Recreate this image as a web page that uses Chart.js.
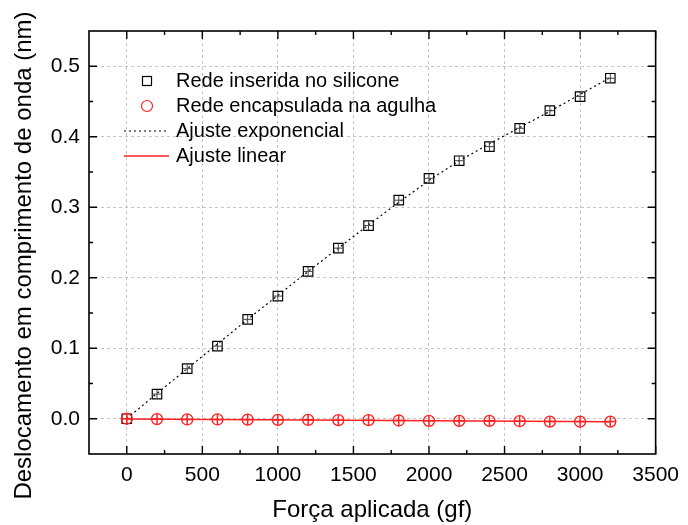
<!DOCTYPE html>
<html>
<head>
<meta charset="utf-8">
<script src="https://cdn.jsdelivr.net/npm/chart.js@4"></script>
<style>
    html, body { margin: 0; padding: 0; background: #fff; }
    #grafico { display: block; }
</style>
</head>
<body>
<canvas id="grafico" width="688" height="525"></canvas>
<script>
// dados
const forca = [0, 200, 400, 600, 800, 1000, 1200, 1400, 1600, 1800, 2000, 2200, 2400, 2600, 2800, 3000, 3200];
const silicone = [0.000, 0.035, 0.071, 0.103, 0.141, 0.174, 0.209, 0.242, 0.274, 0.310, 0.341, 0.366, 0.386, 0.412, 0.437, 0.457, 0.483];
const agulha = [0.000, -0.0005, -0.001, -0.001, -0.0012, -0.0015, -0.0015, -0.002, -0.002, -0.0025, -0.003, -0.003, -0.003, -0.0035, -0.004, -0.004, -0.004];
const ajusteExp = [0.000, 0.036, 0.071, 0.106, 0.141, 0.175, 0.209, 0.242, 0.275, 0.307, 0.338, 0.366, 0.390, 0.413, 0.436, 0.460, 0.484];
const linX = [0, 3200];
const ajusteLin = [-0.0003, -0.0043];

const xTicks = [0, 500, 1000, 1500, 2000, 2500, 3000, 3500];
const yTicks = [0, 0.1, 0.2, 0.3, 0.4, 0.5];

const legendas = ['Rede inserida no silicone', 'Rede encapsulada na agulha', 'Ajuste exponencial', 'Ajuste linear'];
const tituloY = 'Deslocamento em comprimento de onda (nm)';

const VERMELHO = '#ff2020';
const fonte = "'Liberation Sans', Arial, sans-serif";

Chart.defaults.font.family = fonte;
Chart.defaults.color = '#000';

function pontos(xs, ys) {
    return xs.map((x, i) => ({ x: x, y: ys[i] }));
}

// moldura com ticks para dentro (principais e secundários)
const moldura = {
    id: 'moldura',
    afterDraw(chart) {
        const { ctx, chartArea: a, scales: { x, y } } = chart;
        ctx.save();
        ctx.strokeStyle = '#000';
        ctx.lineWidth = 1.6;
        ctx.strokeRect(a.left, a.top, a.right - a.left, a.bottom - a.top);
        ctx.lineWidth = 1.4;
        ctx.beginPath();
        const xMin = xTicks.slice(0, -1).map((v, i) => (v + xTicks[i + 1]) / 2);
        const yMin = yTicks.slice(0, -1).map((v, i) => (v + yTicks[i + 1]) / 2);
        xTicks.forEach(v => {
            const px = x.getPixelForValue(v);
            ctx.moveTo(px, a.bottom); ctx.lineTo(px, a.bottom - 8);
            ctx.moveTo(px, a.top); ctx.lineTo(px, a.top + 8);
        });
        xMin.forEach(v => {
            const px = x.getPixelForValue(v);
            ctx.moveTo(px, a.bottom); ctx.lineTo(px, a.bottom - 4);
            ctx.moveTo(px, a.top); ctx.lineTo(px, a.top + 4);
        });
        yTicks.forEach(v => {
            const py = y.getPixelForValue(v);
            ctx.moveTo(a.left, py); ctx.lineTo(a.left + 8, py);
            ctx.moveTo(a.right, py); ctx.lineTo(a.right - 8, py);
        });
        yMin.forEach(v => {
            const py = y.getPixelForValue(v);
            ctx.moveTo(a.left, py); ctx.lineTo(a.left + 4, py);
            ctx.moveTo(a.right, py); ctx.lineTo(a.right - 4, py);
        });
        ctx.stroke();

        // título do eixo y (um pouco abaixo do centro, como no original)
        ctx.translate(24, (a.top + a.bottom) / 2 + 13);
        ctx.rotate(-Math.PI / 2);
        ctx.font = '24px ' + fonte;
        ctx.textAlign = 'center';
        ctx.textBaseline = 'middle';
        ctx.fillStyle = '#000';
        ctx.fillText(tituloY, 0, 0);
        ctx.restore();
    }
};

// legenda dentro da área do gráfico
const legendaInterna = {
    id: 'legendaInterna',
    afterDraw(chart) {
        const { ctx, chartArea: a } = chart;
        const x0 = a.left + 58;
        const y0 = a.top + 50;
        const passo = 25;
        ctx.save();
        ctx.font = '20px ' + fonte;
        ctx.textBaseline = 'middle';
        ctx.fillStyle = '#000';
        legendas.forEach((t, i) => ctx.fillText(t, a.left + 87, y0 + i * passo));

        ctx.lineWidth = 1.2;
        ctx.strokeStyle = '#000';
        ctx.strokeRect(x0 - 4.5, y0 - 4.5, 9, 9);

        ctx.strokeStyle = VERMELHO;
        ctx.beginPath();
        ctx.arc(x0, y0 + passo, 5.5, 0, Math.PI * 2);
        ctx.stroke();

        ctx.strokeStyle = '#000';
        ctx.setLineDash([2, 3]);
        ctx.beginPath();
        ctx.moveTo(a.left + 35, y0 + 2 * passo);
        ctx.lineTo(a.left + 80, y0 + 2 * passo);
        ctx.stroke();

        ctx.setLineDash([]);
        ctx.strokeStyle = VERMELHO;
        ctx.lineWidth = 1.5;
        ctx.beginPath();
        ctx.moveTo(a.left + 35, y0 + 3 * passo);
        ctx.lineTo(a.left + 80, y0 + 3 * passo);
        ctx.stroke();
        ctx.restore();
    }
};

const ctx = document.getElementById('grafico').getContext('2d');
const grafico = new Chart(ctx, {
    type: 'scatter',
    data: {
        datasets: [
            {
                label: legendas[2],
                data: pontos(forca, ajusteExp),
                showLine: true,
                borderColor: '#000',
                borderWidth: 1.2,
                borderDash: [2, 3],
                pointRadius: 0,
                order: 5
            },
            {
                label: legendas[3],
                data: pontos(linX, ajusteLin),
                showLine: true,
                borderColor: VERMELHO,
                borderWidth: 1.5,
                pointRadius: 0,
                order: 5
            },
            {
                label: legendas[0],
                data: pontos(forca, silicone),
                pointStyle: 'rect',
                pointRadius: 6.7,
                borderColor: '#000',
                backgroundColor: 'rgba(0,0,0,0)',
                borderWidth: 1.2,
                order: 4
            },
            {
                label: '',
                data: pontos(forca, silicone),
                pointStyle: 'cross',
                pointRadius: 4.5,
                borderColor: '#444',
                borderWidth: 1,
                order: 3
            },
            {
                label: legendas[1],
                data: pontos(forca, agulha),
                pointStyle: 'circle',
                pointRadius: 5.5,
                borderColor: VERMELHO,
                backgroundColor: 'rgba(0,0,0,0)',
                borderWidth: 1.3,
                order: 2
            },
            {
                label: '',
                data: pontos(forca, agulha),
                pointStyle: 'cross',
                pointRadius: 5.5,
                borderColor: VERMELHO,
                backgroundColor: VERMELHO,
                borderWidth: 1.5,
                order: 1
            }
        ]
    },
    options: {
        responsive: false,
        animation: false,
        devicePixelRatio: 1,
        layout: { padding: { top: 31, right: 28, left: 0, bottom: 0 } },
        plugins: {
            legend: { display: false },
            tooltip: { enabled: false }
        },
        scales: {
            x: {
                type: 'linear',
                min: -250,
                max: 3500,
                afterBuildTicks: s => { s.ticks = xTicks.map(v => ({ value: v })); },
                afterFit: s => { s.height = 71; },
                grid: { color: '#c4c4c4', lineWidth: 1, drawTicks: false },
                border: { display: false, dash: [3, 3] },
                ticks: { padding: 9, font: { size: 21 }, maxRotation: 0, callback: v => v },
                title: {
                    display: true,
                    text: 'Força aplicada (gf)',
                    font: { size: 24 },
                    padding: { top: 0, bottom: 0 }
                }
            },
            y: {
                type: 'linear',
                min: -0.05,
                max: 0.55,
                afterBuildTicks: s => { s.ticks = yTicks.map(v => ({ value: v })); },
                afterFit: s => { s.width = 89; },
                grid: { color: '#c4c4c4', lineWidth: 1, drawTicks: false },
                border: { display: false, dash: [3, 3] },
                ticks: { padding: 9, font: { size: 21 }, callback: v => v.toFixed(1) }
            }
        }
    },
    plugins: [moldura, legendaInterna]
});
</script>
</body>
</html>
